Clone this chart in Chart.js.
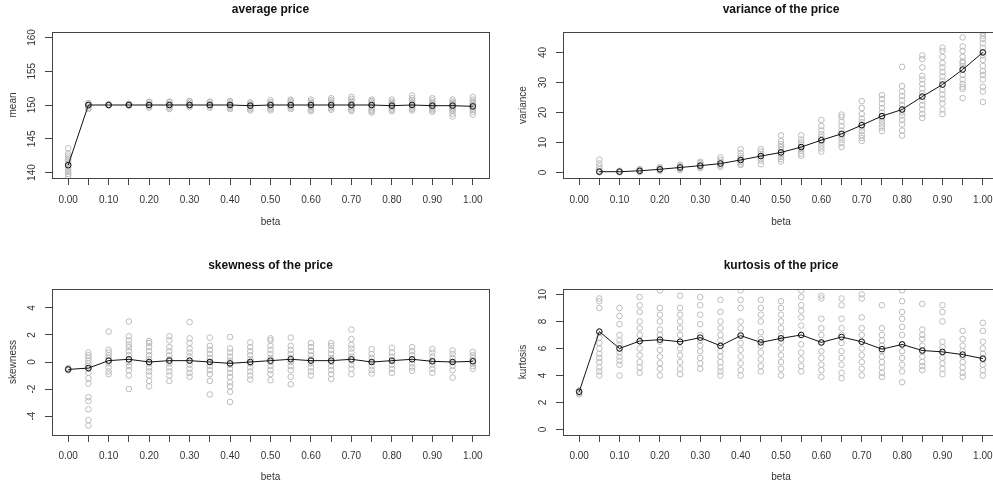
<!DOCTYPE html>
<html>
<head>
<meta charset="utf-8">
<script src="https://cdn.jsdelivr.net/npm/chart.js@4.4.1/dist/chart.umd.min.js"></script>
<style>
  html, body { margin: 0; padding: 0; background: #fff; }
  #wrap { position: relative; width: 993px; height: 488px; overflow: hidden; background: #fff; }
  canvas { position: absolute; }
</style>
</head>
<body>
<div id="wrap">
  <canvas id="c-mean" width="496" height="244" style="left:0;top:0"></canvas>
  <canvas id="c-var" width="510" height="244" style="left:496px;top:0"></canvas>
  <canvas id="c-skew" width="496" height="244" style="left:0;top:244px"></canvas>
  <canvas id="c-kurt" width="510" height="244" style="left:496px;top:244px"></canvas>
</div>
<script>
// x values (beta) and the tick labels shown under each panel
const betas = [0, 0.05, 0.1, 0.15, 0.2, 0.25, 0.3, 0.35, 0.4, 0.45, 0.5, 0.55, 0.6, 0.65, 0.7, 0.75, 0.8, 0.85, 0.9, 0.95, 1];
const xLabels = ['0.00', '', '0.10', '', '0.20', '', '0.30', '', '0.40', '', '0.50', '', '0.60', '', '0.70', '', '0.80', '', '0.90', '', '1.00'];

// average price
const meanAvg = [141.1, 150.0, 150.0, 150.0, 150.0, 150.0, 150.0, 150.0, 150.0, 149.9, 150.0, 150.0, 150.0, 150.0, 150.0, 150.0, 149.9, 150.0, 149.9, 149.9, 149.8];
const meanRuns = [
  [139.5, 139.8, 140.1, 140.4, 140.7, 141.0, 141.3, 141.6, 141.9, 142.2, 142.5, 142.8, 143.6],
  [149.4, 149.6, 149.8, 150.0, 150.2, 150.3],
  [149.9, 150.0, 150.1],
  [149.9, 150.0, 150.1, 150.2],
  [149.6, 149.8, 150.0, 150.2, 150.4, 150.5],
  [149.4, 149.6, 149.8, 150.0, 150.2, 150.4, 150.5],
  [149.7, 149.9, 150.1, 150.3, 150.5, 150.6],
  [149.6, 149.8, 150.0, 150.2, 150.4, 150.5],
  [149.4, 149.6, 149.8, 150.0, 150.2, 150.4, 150.6],
  [149.2, 149.4, 149.6, 149.8, 150.0, 150.2, 150.4],
  [149.2, 149.4, 149.6, 149.8, 150.0, 150.2, 150.4, 150.7],
  [149.4, 149.6, 149.8, 150.0, 150.2, 150.4, 150.6, 150.8],
  [149.1, 149.3, 149.5, 149.7, 149.9, 150.1, 150.3, 150.5, 150.8],
  [149.3, 149.5, 149.7, 149.9, 150.1, 150.3, 150.5, 150.7, 151.0],
  [149.1, 149.3, 149.5, 149.7, 149.9, 150.1, 150.3, 150.6, 150.9, 151.2],
  [148.9, 149.1, 149.3, 149.5, 149.8, 150.0, 150.2, 150.4, 150.6, 150.8],
  [149.1, 149.3, 149.5, 149.7, 149.9, 150.1, 150.3, 150.5, 150.8],
  [149.2, 149.4, 149.6, 149.8, 150.0, 150.2, 150.4, 150.7, 151.0, 151.4],
  [149.0, 149.2, 149.4, 149.6, 149.8, 150.0, 150.2, 150.4, 150.7, 151.0],
  [148.3, 148.7, 149.1, 149.3, 149.5, 149.7, 149.9, 150.1, 150.3, 150.5, 150.8],
  [148.6, 149.0, 149.3, 149.5, 149.7, 149.9, 150.1, 150.3, 150.5, 150.8, 151.2]
];

// variance (nothing at beta = 0)
const varAvg = [null, 0.3, 0.3, 0.6, 1.1, 1.7, 2.3, 3.0, 4.2, 5.5, 6.7, 8.5, 10.8, 12.9, 15.8, 18.8, 21.0, 25.3, 29.3, 34.3, 40.0];
const varRuns = [
  [],
  [0.1, 0.2, 0.3, 0.5, 1.2, 2.0, 3.0, 4.3],
  [0.1, 0.2, 0.4, 0.6],
  [0.2, 0.4, 0.6, 0.9, 1.2],
  [0.6, 0.9, 1.1, 1.4, 1.8],
  [0.9, 1.3, 1.7, 2.1, 2.6],
  [1.5, 1.9, 2.3, 2.7, 3.2, 3.6],
  [1.9, 2.4, 3.0, 3.5, 4.2, 5.0],
  [2.5, 3.0, 3.6, 4.2, 4.8, 5.5, 6.5, 7.8],
  [2.8, 4.0, 4.7, 5.5, 6.2, 7.0, 7.8],
  [3.7, 4.5, 5.3, 6.0, 6.7, 7.5, 8.5, 9.5, 10.5, 12.4],
  [5.6, 6.3, 7.2, 8.0, 8.5, 9.2, 10.0, 11.0, 12.4],
  [7.0, 8.0, 9.0, 10.0, 10.8, 11.8, 12.8, 14.0, 15.5, 17.5],
  [8.5, 9.8, 11.0, 12.0, 12.9, 14.0, 15.5, 17.0, 18.5, 19.3],
  [10.5, 11.5, 12.5, 13.8, 15.0, 15.8, 16.8, 18.0, 19.5, 21.5, 23.8],
  [13.8, 15.0, 16.0, 17.0, 18.0, 18.8, 20.0, 21.5, 23.0, 24.5, 25.8],
  [12.3, 14.0, 16.0, 17.5, 19.0, 20.0, 21.0, 22.5, 24.0, 25.5, 27.0, 28.8, 35.2],
  [18.2, 19.5, 21.0, 22.5, 24.0, 25.3, 26.5, 28.0, 29.5, 31.0, 32.2, 35.0, 37.8, 39.0],
  [19.5, 21.0, 23.0, 24.5, 26.0, 27.5, 29.3, 30.5, 32.0, 33.5, 35.0, 36.5, 38.5, 40.5, 41.6],
  [24.8, 27.8, 28.5, 29.5, 31.0, 32.5, 34.3, 35.5, 36.5, 37.0, 38.5, 40.5, 42.0, 45.0],
  [23.5, 27.0, 28.5, 31.0, 32.5, 33.8, 35.5, 37.5, 39.0, 40.0, 41.5, 43.0, 44.5, 45.5, 46.5]
];

// skewness
const skewAvg = [-0.55, -0.45, 0.1, 0.2, 0.0, 0.1, 0.1, 0.0, -0.1, 0.0, 0.1, 0.2, 0.1, 0.1, 0.2, 0.0, 0.1, 0.2, 0.05, 0.0, 0.05];
const skewRuns = [
  [-0.6, -0.55, -0.5, -0.45],
  [-4.7, -4.3, -3.5, -2.9, -2.6, -1.6, -1.2, -0.8, -0.5, -0.3, -0.1, 0.1, 0.3, 0.5, 0.7],
  [-0.9, -0.7, -0.4, -0.1, 0.1, 0.3, 0.5, 0.7, 0.9, 2.25],
  [-2.0, -1.0, -0.6, -0.3, 0.0, 0.2, 0.5, 0.8, 1.1, 1.3, 1.6, 1.9, 3.0],
  [-1.8, -1.4, -1.0, -0.7, -0.4, -0.1, 0.2, 0.5, 0.8, 1.1, 1.4, 1.55],
  [-1.4, -1.0, -0.7, -0.4, -0.1, 0.2, 0.5, 0.8, 1.1, 1.6, 1.9],
  [-1.1, -0.8, -0.5, -0.2, 0.1, 0.4, 0.7, 1.0, 1.4, 1.75, 2.95],
  [-2.4, -1.4, -0.9, -0.6, -0.3, 0.0, 0.3, 0.6, 0.9, 1.2, 1.8],
  [-2.95, -2.2, -1.8, -1.5, -1.1, -0.8, -0.5, -0.2, 0.1, 0.4, 0.7, 1.0, 1.85],
  [-1.3, -1.0, -0.7, -0.4, -0.1, 0.2, 0.5, 0.8, 1.1, 1.45],
  [-1.35, -0.9, -0.6, -0.3, 0.0, 0.3, 0.6, 0.9, 1.2, 1.6, 1.75],
  [-1.65, -1.1, -0.6, -0.3, 0.0, 0.3, 0.6, 0.9, 1.2, 1.8],
  [-1.0, -0.7, -0.4, -0.1, 0.2, 0.5, 0.8, 1.1, 1.4],
  [-1.25, -0.9, -0.6, -0.3, 0.0, 0.3, 0.6, 0.9, 1.2, 1.4],
  [-0.9, -0.5, -0.2, 0.1, 0.4, 0.7, 1.0, 1.25, 1.7, 2.4],
  [-0.85, -0.6, -0.3, 0.0, 0.3, 0.6, 0.95],
  [-0.8, -0.5, -0.2, 0.1, 0.4, 0.7, 1.05],
  [-0.65, -0.4, -0.1, 0.2, 0.5, 0.8, 1.1],
  [-0.8, -0.5, -0.2, 0.1, 0.4, 0.7, 0.95],
  [-1.15, -0.6, -0.3, 0.0, 0.3, 0.6, 0.85],
  [-0.5, -0.3, -0.1, 0.1, 0.3, 0.5, 0.75]
];

// kurtosis
const kurtAvg = [2.8, 7.25, 6.0, 6.55, 6.65, 6.5, 6.8, 6.2, 6.95, 6.45, 6.75, 7.0, 6.45, 6.85, 6.5, 5.95, 6.3, 5.85, 5.75, 5.55, 5.25];
const kurtRuns = [
  [2.6, 2.7, 2.8, 2.9],
  [4.0, 4.3, 4.6, 5.0, 5.3, 5.6, 6.0, 6.4, 6.8, 7.2, 9.0, 9.5, 9.7],
  [4.0, 4.8, 5.1, 5.4, 5.7, 6.0, 6.3, 6.6, 7.0, 7.8, 8.4, 9.0],
  [4.2, 4.6, 5.0, 5.5, 6.0, 6.5, 7.0, 7.5, 8.0, 8.7, 9.2, 9.8],
  [4.0, 4.5, 4.9, 5.4, 5.9, 6.5, 7.0, 7.4, 8.0, 8.5, 9.0, 10.3],
  [4.1, 4.5, 5.0, 5.5, 6.0, 6.5, 7.0, 7.5, 8.0, 8.5, 9.0, 9.9],
  [4.5, 4.9, 5.3, 5.8, 6.2, 6.6, 7.0, 7.8, 8.5, 9.2, 9.8],
  [4.0, 4.3, 4.6, 5.0, 5.4, 5.8, 6.2, 6.6, 7.0, 7.5, 8.0, 8.7, 9.6],
  [4.0, 4.4, 4.9, 5.4, 5.9, 6.4, 7.0, 7.5, 8.0, 9.0, 9.6, 10.3],
  [4.3, 4.7, 5.2, 5.7, 6.2, 6.7, 7.2, 8.0, 8.5, 9.0, 9.6],
  [4.0, 4.5, 5.0, 5.5, 6.0, 6.5, 7.0, 7.5, 8.0, 8.5, 9.0, 9.5],
  [4.3, 4.7, 5.2, 5.7, 6.3, 7.0, 7.7, 8.3, 8.8, 9.2, 9.8, 10.3],
  [3.9, 4.4, 4.8, 5.3, 5.8, 6.4, 7.0, 7.5, 8.2, 9.7, 9.9],
  [3.8, 4.2, 4.8, 5.3, 5.8, 6.4, 7.0, 7.5, 8.2, 9.2, 9.7],
  [4.0, 4.5, 5.0, 5.5, 6.0, 6.5, 7.0, 7.5, 8.3, 9.7, 10.0],
  [3.9, 4.2, 4.6, 5.0, 5.4, 5.8, 6.2, 6.6, 7.0, 7.5, 9.2],
  [3.5, 4.3, 4.8, 5.3, 5.8, 6.3, 7.0, 7.6, 8.2, 8.7, 9.5, 10.3],
  [4.4, 4.7, 5.0, 5.4, 5.8, 6.2, 6.7, 7.0, 7.4, 9.3],
  [4.1, 4.5, 4.9, 5.3, 5.7, 6.1, 6.5, 8.0, 8.7, 9.2],
  [3.9, 4.2, 4.6, 5.0, 5.4, 5.8, 6.2, 6.7, 7.3],
  [4.0, 4.4, 4.8, 5.2, 5.6, 6.0, 6.5, 7.3, 7.9]
];

const FONT = "'Liberation Sans', Arial, sans-serif";
Chart.defaults.font.family = FONT;
Chart.defaults.font.size = 10;
Chart.defaults.color = '#333';

// box round the plot area + title centred over it, like R does
const framePlugin = {
  id: 'frame',
  afterDraw(chart, args, opts) {
    const { ctx, chartArea: a } = chart;
    ctx.save();
    ctx.strokeStyle = '#444';
    ctx.lineWidth = 1;
    ctx.strokeRect(a.left + 0.5, a.top + 0.5, a.right - a.left, a.bottom - a.top);
    ctx.font = 'bold 12px ' + FONT;
    ctx.fillStyle = '#111';
    ctx.textAlign = 'center';
    ctx.textBaseline = 'middle';
    ctx.fillText(opts.text, (a.left + a.right) / 2, opts.y);
    ctx.restore();
  }
};

// padding so the rotated y labels sit centred ~20px left of the box
function yPad(labels) {
  const c = document.createElement('canvas').getContext('2d');
  c.font = '10px ' + FONT;
  const widest = Math.max(...labels.map(l => c.measureText(l).width));
  return 13 - widest / 2;
}

function toPoints(runs) {
  return runs.flatMap((col, i) => col.map(v => ({ x: betas[i], y: v })));
}

function makePanel(id, p) {
  const canvas = document.getElementById(id);
  const W = canvas.width, H = canvas.height;
  const avgPts = betas.map((b, i) => ({ x: b, y: p.avg[i] })).filter(d => d.y !== null);
  new Chart(canvas, {
    type: 'scatter',
    data: {
      datasets: [
        {
          data: avgPts, showLine: true, order: 0,
          borderColor: '#111', borderWidth: 1,
          pointRadius: 2.8, pointBorderWidth: 1,
          pointBorderColor: '#111', pointBackgroundColor: 'rgba(0,0,0,0)'
        },
        {
          data: toPoints(p.runs), order: 1,
          pointRadius: 2.8, pointBorderWidth: 1,
          pointBorderColor: '#bcbcbc', pointBackgroundColor: 'rgba(0,0,0,0)'
        }
      ]
    },
    options: {
      responsive: false,
      animation: false,
      events: [],
      devicePixelRatio: 1,
      layout: { padding: { left: 0, top: p.area.t, right: W - p.area.r, bottom: 0 } },
      plugins: { legend: { display: false }, tooltip: { enabled: false }, frame: { text: p.title, y: p.titleY } },
      scales: {
        x: {
          type: 'linear', min: -0.04, max: 1.04,
          afterBuildTicks: s => { s.ticks = betas.map(v => ({ value: v })); },
          afterFit: s => { s.height = H - p.area.b; },
          ticks: { autoSkip: false, maxRotation: 0, padding: p.xPad, color: '#333', callback: (v, i) => xLabels[i] },
          grid: { drawOnChartArea: false, drawTicks: true, tickLength: 7, color: '#444' },
          border: { display: true, color: '#444' },
          title: { display: true, text: 'beta', color: '#333', font: { size: 10 }, padding: { top: 0, bottom: p.betaPad } }
        },
        y: {
          type: 'linear', min: p.yMin, max: p.yMax,
          afterBuildTicks: s => { s.ticks = p.yTicks.map(v => ({ value: v })); },
          afterFit: s => { s.width = p.area.l; },
          ticks: {
            minRotation: 90, maxRotation: 90, crossAlign: 'center', color: '#333',
            padding: yPad(p.yTicks.map(String)), callback: v => String(v)
          },
          grid: { drawOnChartArea: false, drawTicks: true, tickLength: 7, color: '#444' },
          border: { display: true, color: '#444' },
          title: { display: true, text: p.yName, color: '#333', font: { size: 10 }, padding: { top: p.yTitlePad, bottom: 0 } }
        }
      }
    },
    plugins: [framePlugin]
  });
}

makePanel('c-mean', {
  title: 'average price', titleY: 10, yName: 'mean', yTitlePad: 7.5,
  avg: meanAvg, runs: meanRuns, yMin: 139.2, yMax: 160.8, yTicks: [140, 145, 150, 155, 160],
  area: { l: 52, t: 32, r: 489, b: 178 }, xPad: 9, betaPad: 15.5
});
makePanel('c-var', {
  title: 'variance of the price', titleY: 10, yName: 'variance', yTitlePad: 21.5,
  avg: varAvg, runs: varRuns, yMin: -1.8, yMax: 46.8, yTicks: [0, 10, 20, 30, 40],
  area: { l: 67, t: 32, r: 503, b: 178 }, xPad: 9, betaPad: 15.5
});
makePanel('c-skew', {
  title: 'skewness of the price', titleY: 22, yName: 'skewness', yTitlePad: 7.5,
  avg: skewAvg, runs: skewRuns, yMin: -5.4, yMax: 5.4, yTicks: [-4, -2, 0, 2, 4],
  area: { l: 52, t: 45, r: 489, b: 191 }, xPad: 8, betaPad: 4.5
});
makePanel('c-kurt', {
  title: 'kurtosis of the price', titleY: 22, yName: 'kurtosis', yTitlePad: 21.5,
  avg: kurtAvg, runs: kurtRuns, yMin: -0.4, yMax: 10.4, yTicks: [0, 2, 4, 6, 8, 10],
  area: { l: 67, t: 45, r: 503, b: 191 }, xPad: 8, betaPad: 4.5
});
</script>
</body>
</html>
